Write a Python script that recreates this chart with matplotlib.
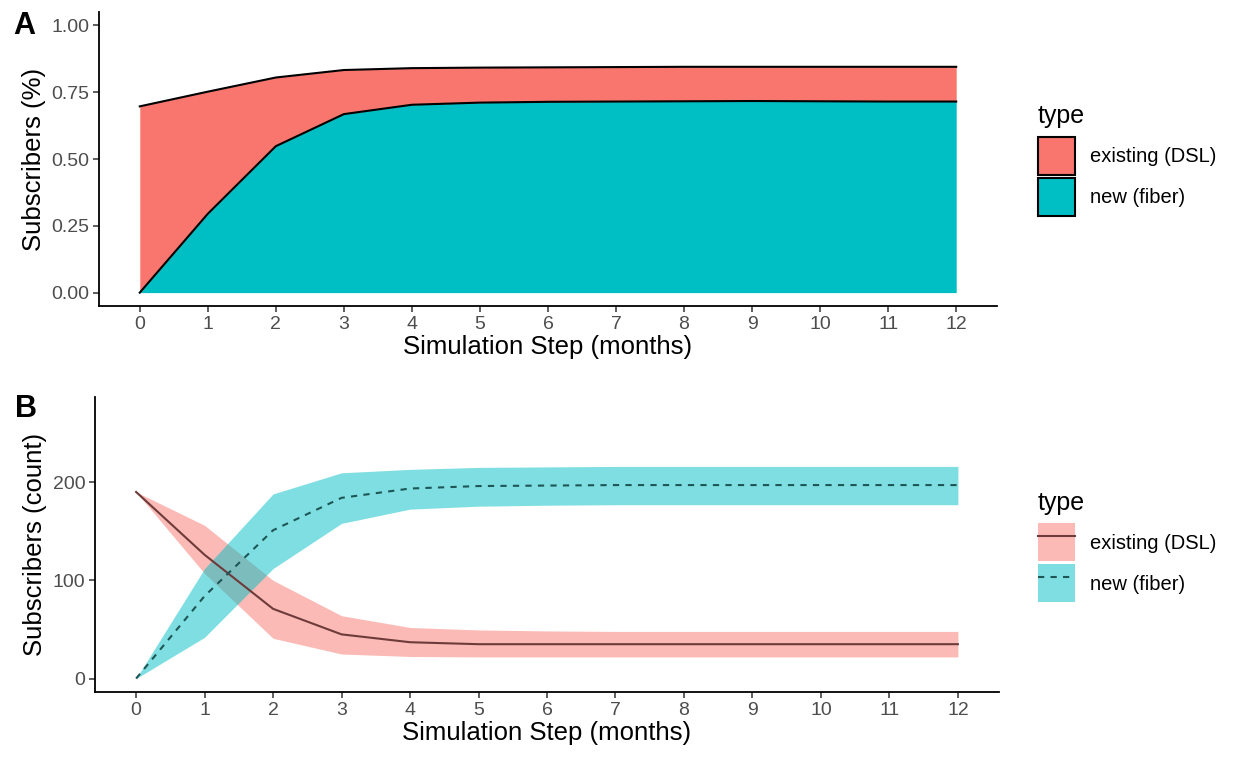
import numpy as np
import matplotlib
matplotlib.use("Agg")
import matplotlib.pyplot as plt
from matplotlib.patches import Patch
from matplotlib.lines import Line2D

plt.rcParams["font.family"] = ["Liberation Sans", "DejaVu Sans"]

# ---- data ----
steps = list(range(13))
tick_labels = [str(s) for s in steps]

# panel A: share of subscribers (stacked)
new_share      = [0.000, 0.295, 0.548, 0.668, 0.703, 0.711, 0.714, 0.715, 0.716, 0.717, 0.716, 0.715, 0.715]
existing_share = [0.697, 0.457, 0.257, 0.165, 0.137, 0.131, 0.129, 0.129, 0.129, 0.128, 0.129, 0.130, 0.130]

# panel B: counts with uncertainty band
existing_mean = [190, 126, 71, 45, 37, 35, 35, 35, 35, 35, 35, 35, 35]
existing_lo   = [190, 107, 41, 25, 22.5, 22, 22, 22, 22, 22, 22, 22, 22]
existing_hi   = [190, 156, 100, 64, 52, 49.5, 48.5, 48, 48, 48, 48, 48, 48]
new_mean = [0, 84, 151, 184, 193.5, 196, 196.5, 197, 197, 197, 197, 197, 197]
new_lo   = [0, 42, 112, 158, 172.5, 175.5, 176.5, 177, 177, 177, 177, 177, 177]
new_hi   = [0, 112, 188, 209.5, 213, 215, 215.5, 216, 216, 216, 216, 216, 216]

labels = ["existing (DSL)", "new (fiber)"]

RED, TEAL = "#F8766D", "#00BFC4"
RED_LINE, TEAL_LINE = "#6E3B3B", "#1E5656"
TICK_COL = "#4D4D4D"

fig = plt.figure(figsize=(12.37, 7.57), dpi=100)
axA = fig.add_axes([0.0800, 0.5958, 0.7260, 0.3883])
axB = fig.add_axes([0.0768, 0.0859, 0.7308, 0.3897])


def style_axis(ax):
    for side in ["top", "right"]:
        ax.spines[side].set_visible(False)
    for side in ["left", "bottom"]:
        ax.spines[side].set_linewidth(1.3)
        ax.spines[side].set_color("black")
    ax.tick_params(axis="both", length=4, width=1.1, color="#333333",
                   labelsize=14, labelcolor=TICK_COL, pad=3)
    ax.set_xticks(steps)
    ax.set_xticklabels(tick_labels)
    ax.set_xlim(-0.6, 12.6)
    ax.set_xlabel("Simulation Step (months)", fontsize=18.5, labelpad=2)


def add_legend(handles, y_top):
    leg = fig.legend(handles, labels, title="type", loc="upper left",
                     bbox_to_anchor=(0.8326, y_top), frameon=False,
                     fontsize=14.5, title_fontsize=18, handlelength=1.84,
                     handleheight=2.53, labelspacing=0.15, handletextpad=0.75,
                     borderaxespad=0)
    leg._legend_box.align = "left"
    leg._legend_box.sep = 6.0  # gap between title and keys (points)
    return leg


# ---- panel A ----
x = np.array(steps)
new_a = np.array(new_share)
tot_a = new_a + np.array(existing_share)
axA.fill_between(x, 0, new_a, color=TEAL, linewidth=0)
axA.fill_between(x, new_a, tot_a, color=RED, linewidth=0)
axA.plot(x, tot_a, color="black", linewidth=1.5)
axA.plot(x, new_a, color="black", linewidth=1.5)
style_axis(axA)
axA.set_ylim(-0.05, 1.05)
axA.set_yticks([0, 0.25, 0.5, 0.75, 1.0])
axA.set_yticklabels(["0.00", "0.25", "0.50", "0.75", "1.00"])
axA.set_ylabel("Subscribers (%)", fontsize=18.5, labelpad=4)

hA = [Patch(facecolor=RED, edgecolor="black", linewidth=1.5),
      Patch(facecolor=TEAL, edgecolor="black", linewidth=1.5)]
add_legend(hA, 0.873)

# ---- panel B ----
axB.fill_between(x, existing_lo, existing_hi, color=RED, alpha=0.5, linewidth=0)
axB.fill_between(x, new_lo, new_hi, color=TEAL, alpha=0.5, linewidth=0)
axB.plot(x, existing_mean, color=RED_LINE, linewidth=1.5)
axB.plot(x, new_mean, color=TEAL_LINE, linewidth=1.5, linestyle=(0, (3, 3)))
style_axis(axB)
axB.set_ylim(-13.65, 286.7)
axB.set_yticks([0, 100, 200])
axB.set_ylabel("Subscribers (count)", fontsize=18.5, labelpad=4)

hB = [(Patch(facecolor=RED, alpha=0.5, linewidth=0),
       Line2D([], [], color=RED_LINE, linewidth=1.5)),
      (Patch(facecolor=TEAL, alpha=0.5, linewidth=0),
       Line2D([], [], color=TEAL_LINE, linewidth=1.5, linestyle=(0, (3, 3))))]
add_legend(hB, 0.362)

# panel tags
fig.text(0.011, 0.955, "A", fontsize=22, fontweight="bold", va="baseline")
fig.text(0.012, 0.449, "B", fontsize=22, fontweight="bold", va="baseline")

fig.savefig("out.png", dpi=100)
